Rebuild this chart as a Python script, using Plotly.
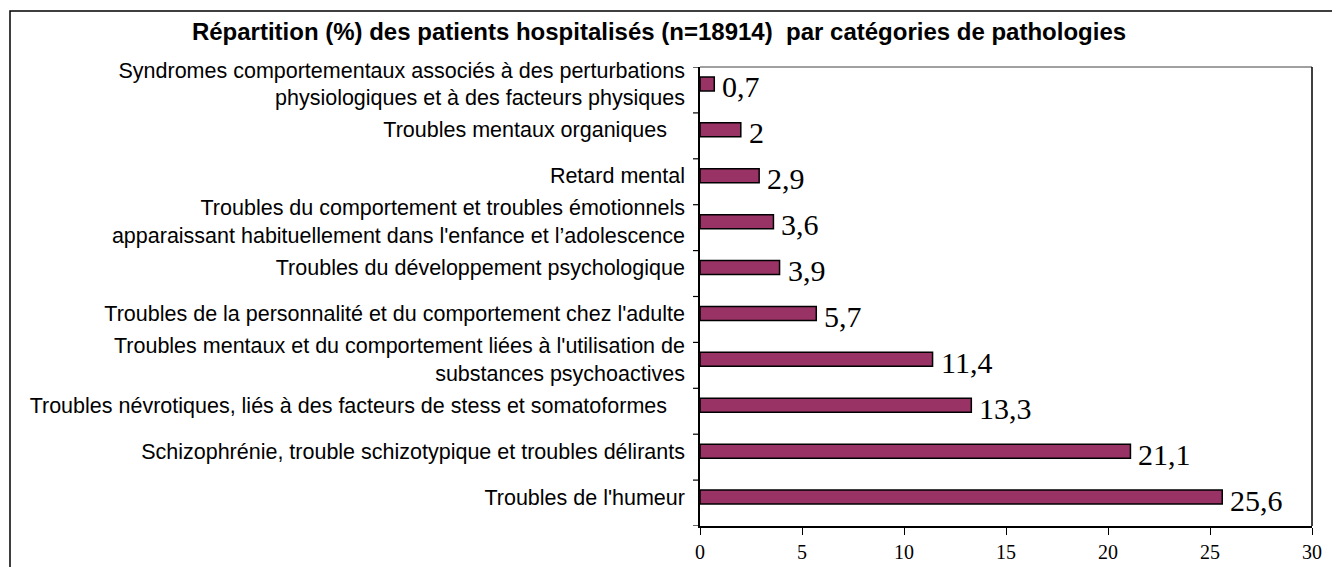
import plotly.graph_objects as go

categories = [
    "Syndromes comportementaux associés à des perturbations<br>physiologiques et à des facteurs physiques",
    "Troubles mentaux organiques\u00a0\u00a0\u00a0",
    "Retard mental",
    "Troubles du comportement et troubles émotionnels<br>apparaissant habituellement dans l'enfance et l’adolescence",
    "Troubles du développement psychologique",
    "Troubles de la personnalité et du comportement chez l'adulte",
    "Troubles mentaux et du comportement liées à l'utilisation de<br>substances psychoactives",
    "Troubles névrotiques, liés à des facteurs de stess et somatoformes\u00a0\u00a0\u00a0",
    "Schizophrénie, trouble schizotypique et troubles délirants",
    "Troubles de l'humeur",
]
values = [0.7, 2, 2.9, 3.6, 3.9, 5.7, 11.4, 13.3, 21.1, 25.6]
x_ticks = [0, 5, 10, 15, 20, 25, 30]
title = "Répartition (%) des patients hospitalisés (n=18914)  par catégories de pathologies"

OFF = 8  # default page body margin
W, H = 1340 - OFF, 567 - OFF
L, R, T, B = 700 - OFF, 1340 - 1312, 67 - OFF, 567 - 526
pw, ph = W - L - R, H - T - B
n = len(categories)
band_px = ph / n
shift = 6 / band_px  # bars sit slightly above band centre
pos = [n - 0.5 - k + shift for k in range(n)]
bounds = list(range(n + 1))

fig = go.Figure()
fig.add_trace(go.Bar(
    x=values, y=pos, orientation="h", width=0.305,
    marker=dict(color="#993366", line=dict(color="black", width=1.5)),
    hoverinfo="skip",
))

for v, p in zip(values, pos):
    fig.add_annotation(
        x=v, y=p, xref="x", yref="y", text=f"{v:g}".replace(".", ","),
        showarrow=False, xanchor="left", yanchor="middle", xshift=6, yshift=-3,
        font=dict(family="Liberation Serif", size=30, color="black"),
    )

def px_to_paper_x(px):
    return (px - OFF - L) / pw

def px_to_paper_y(py):
    return (H - B - (py - OFF)) / ph

# outer frame
fig.add_shape(type="rect", xref="paper", yref="paper",
              x0=px_to_paper_x(10), x1=px_to_paper_x(1360),
              y0=px_to_paper_y(590), y1=px_to_paper_y(11),
              line=dict(color="black", width=1.5), layer="below")
# top border of plot area
fig.add_shape(type="line", xref="paper", yref="paper", x0=0, x1=1, y0=1, y1=1,
              line=dict(color="#808080", width=1.5))
# right border of plot area
fig.add_shape(type="line", xref="paper", yref="paper", x0=1, x1=1, y0=0, y1=1,
              line=dict(color="black", width=1.5))
# category boundary ticks on the y axis
for b in bounds:
    fig.add_shape(type="line", xref="paper", yref="y", x0=-7 / pw, x1=0, y0=b, y1=b,
                  line=dict(color="black", width=1.2))

fig.update_layout(
    template="none",
    width=W, height=H,
    margin=dict(l=L, r=R, t=T, b=B, autoexpand=False),
    paper_bgcolor="white", plot_bgcolor="white",
    showlegend=False,
    title=dict(text="<b>" + title + "</b>", xref="container", yref="container",
               x=(659 - OFF) / W, y=1 - (32 - OFF) / H, xanchor="center", yanchor="middle",
               font=dict(family="Liberation Sans", size=24, color="black")),
    xaxis=dict(range=[0, 30], tickvals=x_ticks, ticktext=[str(t) for t in x_ticks],
               ticks="outside", ticklen=7, tickcolor="black", tickwidth=1.2,
               showline=True, linecolor="black", linewidth=1.5, showgrid=False,
               zeroline=False, ticklabelstandoff=0, automargin=False,
               tickfont=dict(family="Liberation Serif", size=20, color="black")),
    yaxis=dict(range=[0, n], tickvals=pos, ticktext=categories, ticks="",
               showline=True, linecolor="black", linewidth=1.5, mirror=False,
               showgrid=False, zeroline=False, ticklabelstandoff=9, automargin=False,
               tickfont=dict(family="Liberation Sans", size=21.5, color="black")),
)

fig.write_html("out.html")
